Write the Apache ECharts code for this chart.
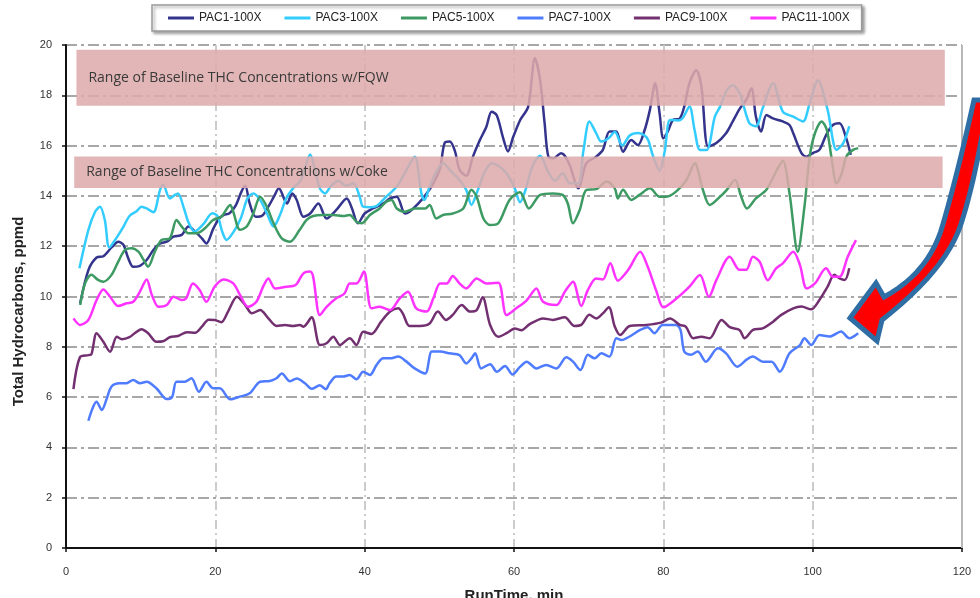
<!DOCTYPE html>
<html>
<head>
<meta charset="utf-8">
<script src="https://cdn.jsdelivr.net/npm/echarts@6/dist/echarts.min.js"></script>
<style>html,body{margin:0;padding:0;background:#fff}#c{width:980px;height:598px}</style>
</head>
<body>
<div id="c"></div>
<script>
// ---- data ----
const seriesNames = ['PAC1-100X','PAC3-100X','PAC5-100X','PAC7-100X','PAC9-100X','PAC11-100X'];
const seriesColors = ['#34348C','#33CCFF','#3D9A62','#4F7CFF','#733070','#FF33FF'];

const pac1 = [[1.9,9.73],[3.0,11.05],[4.1,11.55],[5.0,11.6],[6.1,11.95],[7.0,12.18],[7.7,12.05],[8.3,11.55],[9.0,11.18],[9.9,11.22],[10.8,11.45],[11.7,11.85],[12.6,12.11],[13.5,12.18],[14.4,12.38],[15.5,12.45],[16.4,12.78],[17.3,12.58],[18.2,12.31],[18.8,12.11],[19.7,12.68],[20.5,13.1],[21.1,13.24],[21.9,13.31],[22.7,13.6],[23.5,14.17],[24.0,14.4],[24.6,13.7],[25.4,13.17],[26.3,13.22],[27.1,13.57],[27.9,14.0],[28.5,14.3],[29.6,13.7],[30.3,14.1],[30.9,13.84],[31.8,13.17],[32.7,13.3],[33.8,13.7],[34.9,13.1],[36.2,13.44],[37.6,13.9],[38.3,13.5],[39.1,12.91],[40.0,13.3],[41.1,13.5],[42.5,13.7],[43.4,13.9],[44.3,13.97],[45.4,13.3],[46.0,13.37],[47.2,13.7],[48.3,14.1],[49.2,14.5],[50.1,15.1],[50.7,16.1],[51.4,16.16],[52.1,15.77],[52.7,15.04],[53.6,14.8],[54.5,15.56],[55.4,16.2],[56.3,16.75],[57.0,17.35],[57.7,17.2],[58.5,16.35],[59.2,15.77],[59.9,16.35],[60.8,17.0],[61.9,17.55],[62.8,19.47],[63.5,18.6],[64.1,16.89],[64.6,15.56],[65.3,15.5],[66.3,15.7],[66.8,15.6],[67.5,15.2],[68.6,14.3],[69.7,15.3],[71.0,15.56],[71.9,15.83],[72.8,16.56],[73.7,16.56],[74.6,15.76],[75.7,16.22],[76.6,16.02],[77.5,16.62],[78.2,17.42],[78.9,18.48],[79.5,17.28],[80.0,16.29],[80.6,16.56],[81.3,17.02],[82.2,17.08],[82.8,17.55],[83.5,18.48],[84.4,19.0],[85.1,18.35],[86.0,15.96],[87.1,16.1],[88.4,16.49],[89.3,16.96],[90.2,17.45],[91.1,17.82],[91.8,18.28],[92.4,17.15],[93.1,16.56],[93.8,17.22],[94.7,17.08],[96.0,16.96],[96.9,16.82],[97.4,16.49],[98.5,15.7],[99.2,15.56],[100.0,15.7],[100.9,15.83],[101.8,16.42],[102.7,16.82],[103.6,16.89],[104.5,16.29],[105.1,15.63]];

const pac3 = [[1.8,11.12],[3.0,12.65],[3.9,13.37],[4.55,13.57],[5.2,13.04],[5.8,11.95],[6.8,12.35],[7.7,12.78],[8.5,13.2],[9.5,13.4],[10.1,13.57],[10.8,13.5],[11.7,13.35],[12.6,14.24],[13.0,14.45],[13.9,13.9],[14.6,14.04],[15.0,14.1],[15.8,13.5],[16.4,12.95],[17.2,12.58],[18.4,12.88],[19.6,13.31],[20.3,13.2],[20.9,12.6],[21.5,12.25],[22.4,12.55],[23.4,13.1],[24.3,13.9],[25.1,14.1],[26.0,13.84],[26.9,13.31],[27.8,12.78],[28.6,13.2],[29.5,13.9],[30.4,14.3],[31.4,14.6],[32.0,15.1],[32.7,15.65],[33.3,15.1],[34.0,14.3],[34.7,14.1],[35.5,14.4],[36.5,14.6],[37.5,14.4],[38.5,14.5],[39.3,14.0],[39.8,13.57],[40.7,13.55],[41.6,13.6],[42.9,13.97],[44.3,14.37],[45.6,15.03],[46.7,15.56],[47.6,14.1],[48.0,13.84],[48.7,14.37],[49.5,14.9],[50.5,15.3],[51.5,15.0],[52.5,14.7],[53.6,14.24],[54.3,13.64],[55.0,14.1],[56.0,14.9],[57.0,15.3],[57.9,15.2],[59.0,14.9],[60.1,14.3],[60.8,13.75],[61.5,14.2],[62.5,15.2],[63.5,15.6],[64.5,15.0],[65.5,14.6],[66.5,14.9],[67.5,14.5],[68.6,14.5],[69.3,15.8],[70.1,16.96],[71.0,16.5],[71.7,16.16],[72.7,16.3],[73.5,16.55],[74.5,16.0],[75.5,16.4],[76.6,16.5],[77.5,16.4],[78.0,16.2],[78.6,15.6],[79.5,15.0],[80.2,15.8],[80.9,17.02],[82.0,17.0],[82.6,17.1],[83.5,17.55],[84.2,16.6],[84.9,15.83],[85.8,15.83],[86.9,17.15],[87.6,17.55],[88.5,18.2],[89.3,18.4],[90.2,18.1],[91.5,16.9],[92.4,16.77],[93.3,17.48],[94.7,18.48],[96.0,17.35],[97.4,17.15],[98.7,16.96],[99.6,17.68],[100.7,18.6],[102.0,17.42],[103.2,15.83],[104.1,16.1],[104.9,16.77]];

const pac5 = [[1.9,9.66],[2.55,10.52],[3.4,10.86],[4.3,10.66],[5.0,10.59],[6.1,10.86],[7.0,11.39],[7.9,11.85],[8.8,11.92],[9.7,11.78],[10.4,11.45],[11.0,11.19],[11.9,11.78],[12.8,12.25],[13.9,12.31],[14.8,13.04],[15.5,12.78],[16.4,12.51],[17.5,12.51],[18.6,12.71],[19.7,13.04],[20.8,13.17],[22.0,13.64],[22.4,13.37],[23.3,12.65],[24.2,12.78],[25.1,13.31],[26.0,13.97],[26.9,13.57],[27.8,12.91],[28.9,12.31],[30.0,12.18],[31.3,12.65],[32.2,13.04],[33.1,13.2],[34.4,13.24],[35.8,13.24],[37.1,13.2],[38.0,13.24],[38.9,12.97],[39.6,12.91],[40.7,13.24],[42.0,13.5],[42.9,13.77],[43.6,13.84],[44.3,13.5],[45.4,13.37],[46.7,13.5],[48.1,13.5],[48.7,13.64],[49.6,13.1],[50.5,13.24],[51.8,13.3],[53.2,13.5],[54.3,14.24],[55.0,13.97],[55.9,13.1],[56.8,12.84],[57.9,12.91],[59.4,13.84],[60.8,14.15],[62.0,13.5],[63.5,14.04],[65.2,14.1],[66.5,14.04],[67.2,13.7],[67.9,12.91],[68.8,13.44],[69.7,14.24],[71.0,14.27],[72.4,14.57],[73.5,14.3],[73.9,13.9],[74.6,14.24],[75.7,13.84],[76.8,14.04],[78.2,14.3],[79.5,13.97],[80.4,13.97],[81.7,14.17],[83.1,14.63],[84.2,15.3],[85.3,14.24],[86.2,13.64],[87.6,13.97],[88.5,14.24],[89.6,14.64],[90.4,14.0],[91.2,13.5],[92.4,13.9],[93.8,14.24],[95.2,15.03],[96.0,15.4],[96.9,14.1],[98.0,11.78],[98.9,13.57],[99.6,15.56],[100.3,16.49],[101.2,16.96],[101.9,16.62],[102.5,15.56],[103.2,14.5],[103.9,14.9],[104.5,15.56],[105.4,15.83],[106.1,15.9]];

const pac7 = [[3.0,5.06],[4.1,5.82],[4.8,5.49],[5.4,5.89],[6.1,6.42],[7.2,6.55],[8.1,6.55],[9.0,6.68],[9.9,6.55],[10.8,6.61],[12.1,6.35],[13.5,5.92],[14.2,6.0],[14.8,6.61],[15.9,6.61],[16.8,6.75],[17.8,6.21],[18.8,6.61],[19.7,6.35],[20.6,6.35],[22.0,5.91],[23.3,6.02],[24.6,6.15],[26.0,6.61],[27.3,6.64],[28.2,6.75],[28.9,6.94],[30.0,6.63],[30.9,6.74],[32.0,6.55],[32.9,6.33],[34.0,6.47],[34.8,6.31],[35.3,6.55],[36.2,6.82],[37.1,6.82],[38.0,6.88],[38.9,6.71],[39.8,7.01],[40.7,6.88],[41.6,7.28],[42.5,7.54],[43.4,7.54],[44.5,7.61],[45.6,7.41],[46.7,7.14],[48.1,6.94],[49.0,7.81],[50.1,7.81],[51.4,7.74],[52.7,7.67],[53.6,7.34],[54.3,7.54],[54.8,7.74],[55.6,7.14],[56.8,7.31],[57.7,7.01],[58.8,7.24],[59.8,6.9],[60.8,7.2],[61.7,7.41],[63.0,7.14],[64.3,7.28],[65.7,7.14],[67.0,7.58],[67.9,7.41],[68.9,7.08],[69.9,7.68],[70.8,7.54],[71.7,7.74],[72.8,7.61],[73.7,8.34],[74.4,8.27],[75.5,8.41],[76.9,8.67],[77.9,8.78],[78.8,8.54],[79.9,8.87],[81.7,8.87],[82.3,8.67],[82.8,7.81],[83.7,7.68],[84.6,7.81],[85.7,7.41],[87.3,7.94],[88.4,7.74],[89.9,7.21],[91.2,7.5],[92.0,7.61],[93.3,7.41],[94.5,7.41],[95.6,7.01],[96.9,7.74],[98.3,8.07],[98.9,8.34],[99.8,8.07],[100.9,8.47],[102.3,8.41],[103.8,8.61],[104.9,8.34],[106.1,8.54]];

const pac9 = [[1.0,6.32],[1.9,7.6],[3.0,7.67],[3.4,7.7],[4.1,8.54],[5.0,8.2],[5.9,7.8],[6.8,8.4],[7.5,8.3],[8.5,8.38],[9.2,8.54],[10.1,8.7],[11.0,8.54],[12.1,8.2],[13.0,8.22],[13.9,8.38],[15.0,8.43],[16.2,8.58],[17.3,8.56],[18.2,8.8],[19.1,9.08],[19.9,9.07],[20.8,8.98],[21.7,9.4],[22.9,9.99],[24.0,9.66],[24.9,9.33],[26.0,9.46],[27.1,9.13],[28.2,8.83],[29.3,8.87],[30.4,8.83],[31.3,8.87],[31.8,8.8],[32.9,9.17],[34.0,8.07],[34.9,8.14],[35.8,8.4],[36.7,8.07],[38.0,8.34],[38.9,8.07],[39.8,8.6],[40.9,8.51],[42.2,9.0],[43.4,9.4],[44.5,9.53],[45.1,9.33],[46.0,8.83],[47.4,8.83],[48.7,8.93],[49.8,9.4],[50.9,9.07],[51.8,9.27],[53.0,9.66],[54.1,9.4],[55.0,9.46],[55.8,9.97],[56.8,8.87],[57.9,8.4],[59.0,8.54],[60.1,8.73],[61.0,8.66],[62.1,8.9],[63.9,9.13],[65.2,9.07],[66.8,9.17],[68.1,8.83],[69.0,8.87],[70.1,9.27],[71.0,9.13],[71.9,9.33],[72.7,9.57],[73.5,8.8],[74.2,8.47],[75.5,8.83],[77.7,8.87],[79.7,8.96],[80.9,9.13],[82.2,8.87],[83.0,8.8],[84.0,8.34],[85.1,8.4],[86.2,8.34],[87.8,9.07],[88.9,8.78],[90.2,8.67],[90.9,8.34],[92.0,8.67],[93.3,8.73],[94.7,9.0],[95.8,9.27],[97.4,9.53],[98.5,9.6],[99.8,9.49],[100.9,9.86],[102.0,10.39],[102.9,10.86],[103.6,10.72],[104.3,10.66],[104.9,11.12]];

const pac11 = [[1.0,9.13],[1.9,8.87],[3.0,9.07],[4.1,9.86],[5.0,10.28],[5.9,9.99],[7.0,9.62],[8.1,9.73],[9.0,9.79],[9.9,10.19],[10.8,10.68],[11.5,10.06],[12.4,9.59],[13.5,9.66],[14.4,9.99],[15.5,9.86],[16.1,9.93],[17.0,10.52],[17.9,10.26],[18.8,9.79],[19.9,10.39],[21.1,10.68],[22.4,10.52],[23.3,10.06],[24.4,9.59],[25.5,9.79],[26.4,10.39],[27.1,10.72],[28.0,10.32],[29.5,10.39],[30.4,10.42],[30.9,10.5],[31.8,10.92],[32.7,10.99],[33.1,10.79],[34.0,9.26],[34.9,9.59],[36.2,9.93],[37.3,10.12],[38.0,10.52],[38.9,10.52],[39.9,10.99],[40.9,9.53],[42.0,9.59],[43.4,9.46],[44.7,9.93],[45.8,10.19],[46.9,9.53],[48.3,9.4],[49.2,9.93],[50.1,10.52],[51.0,10.52],[51.8,10.82],[52.7,10.52],[53.6,10.32],[55.0,10.72],[56.3,10.52],[57.9,10.55],[59.0,9.26],[60.3,9.53],[61.7,9.85],[63.0,10.32],[63.9,9.79],[65.7,9.66],[66.8,10.19],[67.9,10.59],[69.0,9.62],[69.9,10.26],[71.0,10.72],[71.9,10.68],[72.9,11.32],[73.9,10.63],[75.3,11.06],[76.9,11.78],[77.9,11.19],[79.1,10.19],[80.0,9.57],[81.8,9.93],[83.5,10.39],[84.9,10.85],[86.1,9.99],[87.1,10.65],[88.9,11.58],[90.2,11.06],[91.1,11.06],[92.0,11.58],[92.9,11.38],[94.0,10.65],[95.1,11.12],[96.0,11.32],[97.4,11.78],[98.3,11.25],[99.2,10.32],[100.3,10.52],[101.8,11.12],[102.7,10.79],[103.6,10.79],[104.7,11.58],[105.8,12.24]];

// shaded baseline ranges: [xStart, xEnd, yLow, yHigh, label]
const bandFQW = [1.4, 117.7, 17.58, 19.81, 'Range of Baseline THC Concentrations w/FQW'];
const bandCoke = [1.1, 117.4, 14.31, 15.57, 'Range of Baseline THC Concentrations w/Coke'];

const xTicks = {min: 0, max: 120, interval: 20};
const yTicks = {min: 0, max: 20, interval: 2};
const xTitle = 'RunTime, min';
const yTitle = 'Total Hydrocarbons, ppmd';

// ---- decorative arrow outline (screen pixels, annotation only) ----
function quad(p0, c, p1, n) {
  const out = [];
  for (let i = 1; i <= n; i++) {
    const t = i / n, u = 1 - t;
    out.push([u*u*p0[0] + 2*u*t*c[0] + t*t*p1[0], u*u*p0[1] + 2*u*t*c[1] + t*t*p1[1]]);
  }
  return out;
}
function arrowPoints() {
  let pts = [[850,318],[876,283],[884,297]];
  pts = pts.concat(quad([884,297],[930,272],[943,224],12));
  pts = pts.concat(quad([943,224],[958,172],[974,100],12));
  pts.push([988,100]);
  pts = pts.concat(quad([988,100],[976,178],[961,224],12));
  pts = pts.concat(quad([961,224],[946,270],[882,320],12));
  pts.push([877,341]);
  return pts;
}

// ---- chart ----
const allData = [pac1, pac3, pac5, pac7, pac9, pac11];
const chart = echarts.init(document.getElementById('c'), null, {renderer: 'canvas'});

const lineSeries = seriesNames.map((n, i) => ({
  name: n, type: 'line', data: allData[i], symbol: 'none', smooth: 0.3,
  z: 2,
  lineStyle: {color: seriesColors[i], width: 2.5},
  itemStyle: {color: seriesColors[i]}
}));

function band(b) {
  return [{
    xAxis: b[0], yAxis: b[3],
    label: {show: true, formatter: b[4]}
  }, {xAxis: b[1], yAxis: b[2]}];
}

const overlay = {
  name: 'bands', type: 'line', data: [], z: 6, silent: true,
  markArea: {
    silent: true, z: 10,
    itemStyle: {color: 'rgb(221,170,170)', opacity: 0.86},
    label: {show: true, position: 'insideLeft', offset: [7, 0], color: '#3a3a3a',
            fontFamily: 'Open Sans', fontSize: 14},
    data: [band(bandFQW), band(bandCoke)]
  },
  markLine: {
    silent: true, z: 3, symbol: 'none', label: {show: false},
    lineStyle: {color: '#b8b8b8', width: 2, type: 'solid'},
    data: [{xAxis: xTicks.max}]
  }
};

chart.setOption({
  backgroundColor: '#ffffff',
  animation: false,
  textStyle: {fontFamily: 'Liberation Sans'},
  grid: {left: 66, right: 18, top: 45, bottom: 50, containLabel: false, outerBoundsMode: 'none'},
  legend: {
    data: seriesNames, left: 152, top: 5,
    icon: 'rect',
    padding: [6, 12, 6, 16], itemGap: 23, itemWidth: 26, itemHeight: 3,
    backgroundColor: '#fff', borderColor: '#9a9a9a', borderWidth: 1.5,
    shadowColor: 'rgba(0,0,0,0.35)', shadowBlur: 3, shadowOffsetX: 2, shadowOffsetY: 2,
    textStyle: {fontSize: 12, color: '#222', fontFamily: 'Liberation Sans', lineHeight: 14}
  },
  xAxis: {
    type: 'value', min: xTicks.min, max: xTicks.max, interval: xTicks.interval,
    name: xTitle, nameLocation: 'middle', nameGap: 40,
    nameTextStyle: {fontSize: 15, fontWeight: 'bold', color: '#222', fontFamily: 'Liberation Sans'},
    axisLine: {show: true, lineStyle: {color: '#111', width: 2}},
    axisTick: {show: true, length: 4, lineStyle: {color: '#111', width: 1.5}},
    axisLabel: {fontSize: 11, color: '#333', margin: 18},
    splitLine: {show: true, lineStyle: {color: '#cccccc', width: 2, type: [9, 4, 2, 4]}}
  },
  yAxis: {
    type: 'value', min: yTicks.min, max: yTicks.max, interval: yTicks.interval,
    name: yTitle, nameLocation: 'middle', nameGap: 40,
    nameTextStyle: {fontSize: 15, fontWeight: 'bold', color: '#222', fontFamily: 'Liberation Sans', padding: [0, 30, 0, 0]},
    axisLine: {show: true, lineStyle: {color: '#111', width: 2}},
    axisTick: {show: true, length: 4, lineStyle: {color: '#111', width: 1.5}},
    axisLabel: {fontSize: 11, color: '#333', margin: 14},
    splitLine: {show: true, lineStyle: {color: '#8a8a8a', width: 1.5, type: [11, 4, 3, 4]}}
  },
  series: lineSeries.concat([overlay]),
  graphic: [{
    type: 'polygon', z: 100,
    shape: {points: arrowPoints()},
    style: {fill: '#ff0000', stroke: '#2F6EA5', lineWidth: 5, lineJoin: 'miter'}
  }]
});
</script>
</body>
</html>
